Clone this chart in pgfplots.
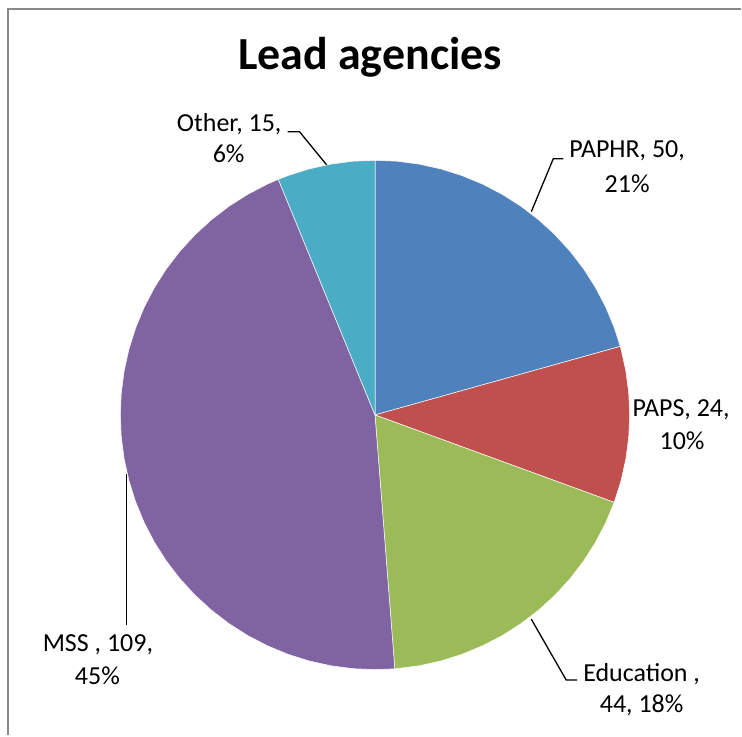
\documentclass[border=0pt]{standalone}
\usepackage{pgfplots}
\pgfplotsset{compat=1.18}
\usepackage{fontspec}
\setmainfont{Carlito}

% Excel 2007 palette
\definecolor{cBlue}{HTML}{4F81BD}
\definecolor{cRed}{HTML}{C0504D}
\definecolor{cGreen}{HTML}{9BBB59}
\definecolor{cPurple}{HTML}{8064A2}
\definecolor{cAqua}{HTML}{4BACC6}
\definecolor{frameGray}{RGB}{136,136,136}

\begin{document}
\begin{tikzpicture}
\begin{axis}[
    scale only axis,
    width=742pt, height=736pt,
    xmin=-375.5, xmax=366.5,
    ymin=-320.5, ymax=415.5,
    hide axis, clip=false,
    every axis plot/.append style={data cs=polar, draw=white, line width=0.5pt},
]
% counts: PAPHR 50, PAPS 24, Education 44, MSS 109, Other 15 (total 242)
% slice angles (deg, clockwise from 12 o'clock), radius 255
\addplot[fill=cBlue] coordinates {
  (90,0) (90,255) (85,255) (80,255) (75,255) (70,255) (65,255) (60,255)
  (55,255) (50,255) (45,255) (40,255) (35,255) (30,255) (25,255) (20,255)
  (15.62,255)
} -- cycle;
\addplot[fill=cRed] coordinates {
  (15.62,0) (15.62,255) (15,255) (10,255) (5,255) (0,255) (-5,255)
  (-10,255) (-15,255) (-20.08,255)
} -- cycle;
\addplot[fill=cGreen] coordinates {
  (-20.08,0) (-20.08,255) (-25,255) (-30,255) (-35,255) (-40,255) (-45,255)
  (-50,255) (-55,255) (-60,255) (-65,255) (-70,255) (-75,255) (-80,255)
  (-85.54,255)
} -- cycle;
\addplot[fill=cPurple] coordinates {
  (-85.54,0) (-85.54,255) (-90,255) (-95,255) (-100,255) (-105,255) (-110,255)
  (-115,255) (-120,255) (-125,255) (-130,255) (-135,255) (-140,255) (-145,255)
  (-150,255) (-155,255) (-160,255) (-165,255) (-170,255) (-175,255) (-180,255)
  (-185,255) (-190,255) (-195,255) (-200,255) (-205,255) (-210,255) (-215,255)
  (-220,255) (-225,255) (-230,255) (-235,255) (-240,255) (-245,255)
  (-247.69,255)
} -- cycle;
\addplot[fill=cAqua] coordinates {
  (-247.69,0) (-247.69,255) (-250,255) (-255,255) (-260,255) (-265,255)
  (-270,255)
} -- cycle;

% keep the whole chart area as the page
\path (rel axis cs:0,0) rectangle (rel axis cs:1,1);

% chart area border (top and left edges visible)
\draw[frameGray, line width=2pt] (axis cs:-367.5,-320.5) -- (axis cs:-367.5,406.5) -- (axis cs:366.5,406.5);

% title
\node[anchor=base, font=\fontsize{46}{50}\selectfont\bfseries] at (axis cs:-5,345.5) {Lead agencies};

% leader lines
\draw[black, line width=1.3pt] (axis cs:-87.5,283.5) -- (axis cs:-75.5,283.5) -- (axis cs:-48.5,250.5);
\draw[black, line width=1.3pt] (axis cs:188.5,256.5) -- (axis cs:178.5,256.5) -- (axis cs:156.5,203.5);
\draw[black, line width=1.3pt] (axis cs:202.5,-265.5) -- (axis cs:191.5,-265.5) -- (axis cs:156.5,-204.5);
\draw[black, line width=1.3pt] (axis cs:-248.5,-210.5) -- (axis cs:-248.5,-59.5);

% data labels
\begin{scope}[every node/.style={anchor=base, font=\fontsize{26}{30}\selectfont, inner sep=0pt}]
\node at (axis cs:-146,283.5) {Other, 15,};
\node at (axis cs:-146.5,252.5) {6\%};
\node at (axis cs:252.5,257.5) {PAPHR, 50,};
\node at (axis cs:252.5,222.5) {21\%};
\node at (axis cs:306.5,-1.5) {PAPS, 24,};
\node at (axis cs:307.5,-34.5) {10\%};
\node at (axis cs:267,-266.5) {Education ,};
\node at (axis cs:267,-297.5) {44, 18\%};
\node at (axis cs:-277.5,-236.5) {MSS , 109,};
\node at (axis cs:-278,-269.5) {45\%};
\end{scope}
\end{axis}
\end{tikzpicture}
\end{document}
